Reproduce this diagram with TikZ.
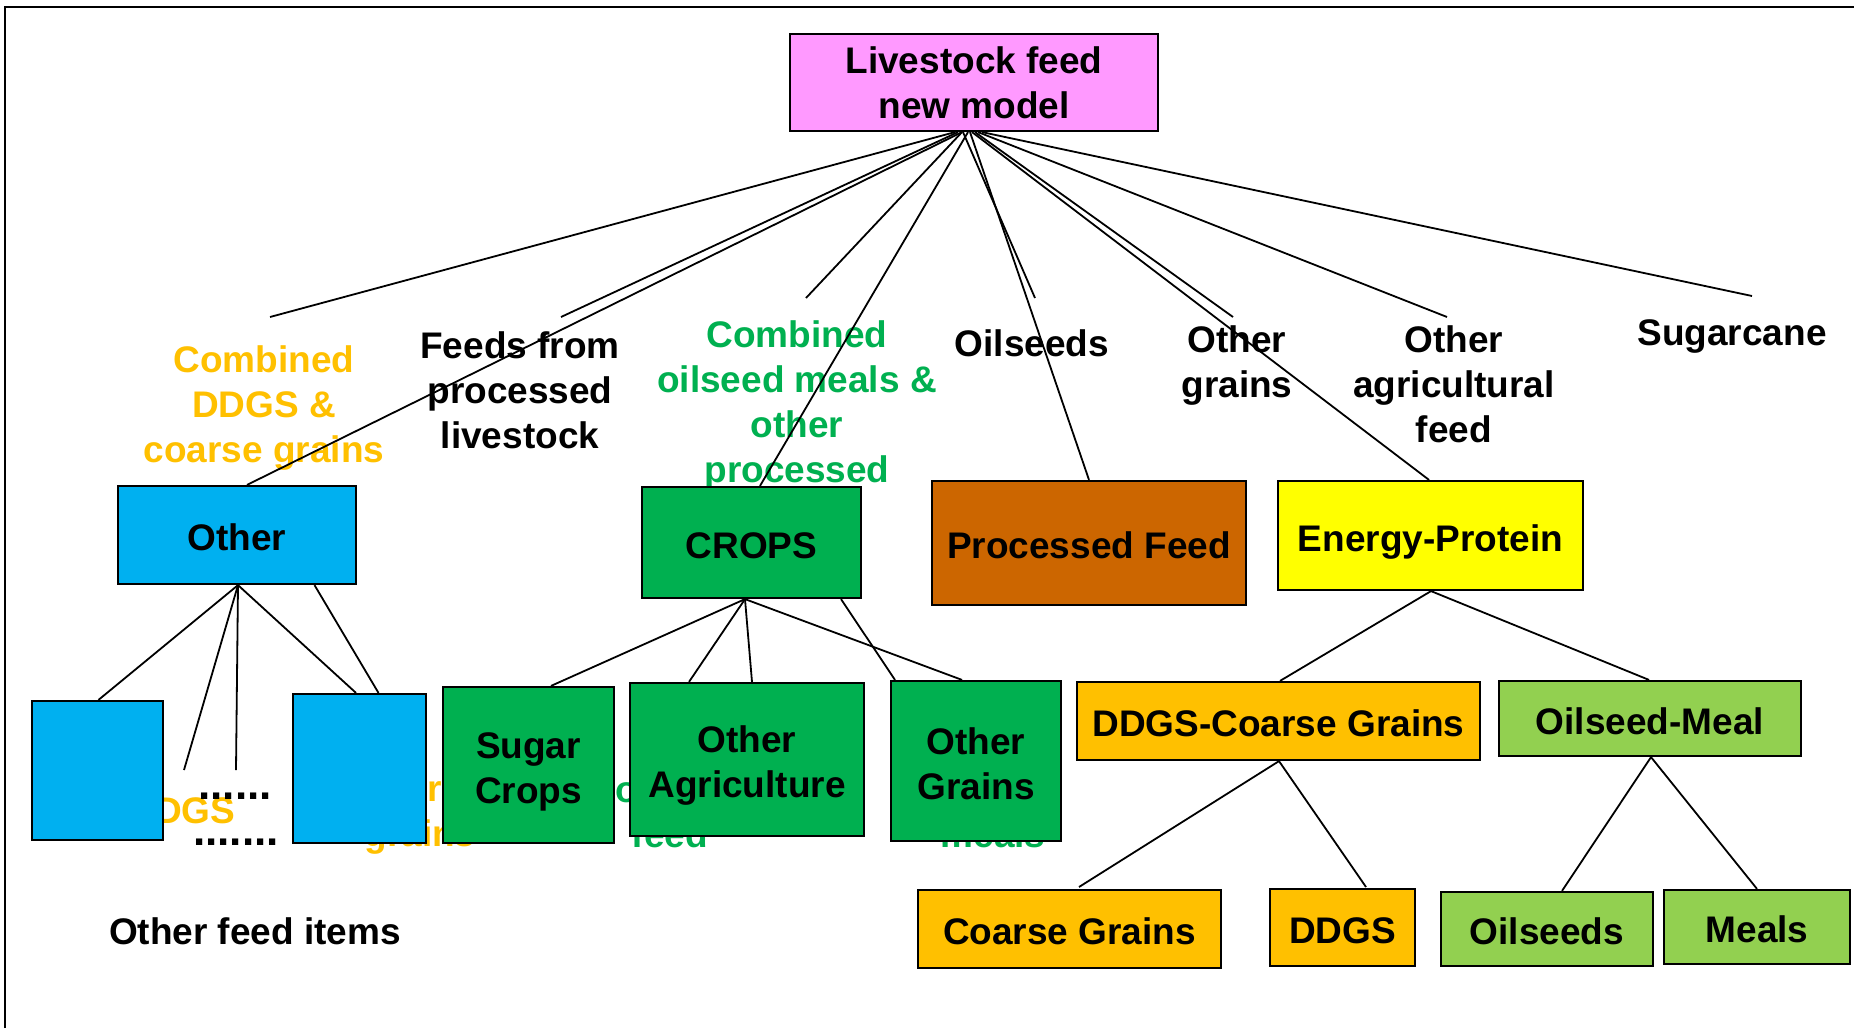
\documentclass[tikz,border=0pt]{standalone}
\usepackage{fontspec}
\setmainfont{Liberation Sans}
\pgfdeclarelayer{bg}
\pgfsetlayers{bg,main}
\definecolor{cpink}{HTML}{FF99FF}
\definecolor{cblue}{HTML}{00B0F0}
\definecolor{cgreen}{HTML}{00B050}
\definecolor{cbrown}{HTML}{CC6600}
\definecolor{cyel}{HTML}{FFFF00}
\definecolor{corange}{HTML}{FFC000}
\definecolor{clgreen}{HTML}{92D050}
\newcommand\twolines[2]{\begin{tabular}{@{}c@{}}\rule{0pt}{44.5pt}#1\\#2\end{tabular}}
\tikzset{
  box/.style={draw=black, line width=2.2pt, inner sep=0pt, align=center,
    font=\fontsize{37}{45}\selectfont\bfseries},
  onebox/.style={box, text height=31pt, text depth=0pt},
  lbl/.style={inner sep=0pt, align=center, font=\fontsize{37}{45}\selectfont\bfseries},
  dots/.style={inner sep=0pt, font=\fontsize{44}{50}\selectfont\bfseries, anchor=base},
  conn/.style={line width=1.8pt, black},
  frame/.style={line width=2pt, black},
}
\begin{document}
\begin{tikzpicture}[x=1pt,y=-1pt]
\useasboundingbox (0,0) rectangle (1854,1028);
% boxes
\node[box, fill=cpink, minimum width=368pt, minimum height=97pt] (top) at (974,82.5) {Livestock feed\\new model};
\node[onebox, fill=cblue, minimum width=238pt, minimum height=98pt] (other) at (237,535) {Other};
\node[onebox, fill=cgreen, minimum width=219pt, minimum height=111pt] (crops) at (751.5,542.5) {CROPS};
\node[onebox, fill=cbrown, minimum width=314pt, minimum height=124pt] (proc) at (1089,543) {Processed Feed};
\node[onebox, fill=cyel, minimum width=305pt, minimum height=109pt] (energy) at (1430.5,535.5) {Energy-Protein};
\node[onebox, fill=corange, minimum width=403pt, minimum height=78pt] (ddgscg) at (1278.5,721) {DDGS-Coarse Grains};
\node[onebox, fill=clgreen, minimum width=302pt, minimum height=75pt] (oilmeal) at (1650,718.5) {Oilseed-Meal};
\node[onebox, fill=corange, minimum width=303pt, minimum height=78pt] (coarse) at (1069.5,929) {Coarse Grains};
\node[onebox, fill=corange, minimum width=145pt, minimum height=77pt] (ddgs) at (1342.5,927.5) {DDGS};
\node[onebox, fill=clgreen, minimum width=212pt, minimum height=74pt] (oilseeds) at (1547,929) {Oilseeds};
\node[onebox, fill=clgreen, minimum width=186pt, minimum height=74pt] (meals) at (1757,927) {Meals};
\node[box, fill=cblue, minimum width=131pt, minimum height=139pt] (blueA) at (97.5,770.5) {};
\node[box, fill=cblue, minimum width=133pt, minimum height=149pt] (blueB) at (359.5,768.5) {};
\node[box, fill=cgreen, minimum width=171pt, minimum height=156pt] (sugar) at (528.5,765) {\twolines{Sugar}{Crops}};
\node[box, fill=cgreen, minimum width=234pt, minimum height=153pt] (otheragri) at (747,759.5) {\twolines{Other}{Agriculture}};
\node[box, fill=cgreen, minimum width=170pt, minimum height=160pt] (othergrains) at (976,761) {\twolines{Other}{Grains}};

\begin{pgfonlayer}{bg}
\fill[white] (0,0) rectangle (1854,1028);
\draw[frame] (5,1028) -- (5,7) -- (1854,7);
% texts partly hidden behind the boxes
\node[lbl, text=corange] (hA) at (182,811) {DDGS};
\node[dots] (hB) at (235,799) {......};
\node[dots] (hC) at (236,845) {.......};
\node[lbl, text=corange] (hD) at (420,815) {Coarse\\grains};
\node[lbl, text=cgreen] (hE) at (670,811.5) {Processed\\feed};
\node[lbl, text=cgreen] (hF) at (993,811.5) {Oilseed\\meals};
% labels
\node[lbl, text=corange] (lA) at (264,408) {Combined\\DDGS \&\\coarse grains};
\node[lbl] (lB) at (520,390.5) {Feeds from\\processed\\livestock};
\node[lbl, text=cgreen] (lC) at (797,405) {Combined\\oilseed meals \&\\other\\processed};
\node[lbl] (lD) at (1032,343.7) {Oilseeds};
\node[lbl] (lE) at (1237,366) {Other\\grains};
\node[lbl] (lF) at (1454,384) {Other\\agricultural\\feed};
\node[lbl] (lG) at (1732,336) {Sugarcane};
\node[lbl] (lH) at (255,931.7) {Other feed items};
% free ends
\coordinate (c1) at (270,317);
\coordinate (c2) at (561,317);
\coordinate (c3) at (806,298);
\coordinate (c4) at (1035,298);
\coordinate (c5) at (1233,317);
\coordinate (c6) at (1447,317);
\coordinate (c7) at (1752,296);
\coordinate (o1) at (184,770);
\coordinate (o2) at (236,770);
\coordinate (d1) at (1079,887);
\coordinate (d2) at (1366,887);
% connectors from the top box
\draw[conn] ([xshift=-19pt]top.south) -- (c1);
\draw[conn] ([xshift=-16pt]top.south) -- (c2);
\draw[conn] ([xshift=-12pt]top.south) -- ([xshift=10pt]other.north);
\draw[conn] ([xshift=-12pt]top.south) -- (c3);
\draw[conn] ([xshift=-6pt]top.south) -- ([xshift=8.5pt]crops.north);
\draw[conn] ([xshift=-11pt]top.south) -- (c4);
\draw[conn] ([xshift=-4pt]top.south) -- (proc.north);
\draw[conn] ([xshift=1pt]top.south) -- (c5);
\draw[conn] ([xshift=-2pt]top.south) -- ([xshift=-1.5pt]energy.north);
\draw[conn] ([xshift=4pt]top.south) -- (c6);
\draw[conn] ([xshift=8pt]top.south) -- (c7);
% Other fan
\draw[conn] ([xshift=1pt]other.south) -- ([xshift=1pt]blueA.north);
\draw[conn] ([xshift=1pt]other.south) -- (o1);
\draw[conn] ([xshift=1pt]other.south) -- (o2);
\draw[conn] ([xshift=1pt]other.south) -- ([xshift=-3.5pt]blueB.north);
\draw[conn] ([xshift=77.5pt]other.south) -- ([xshift=19pt]blueB.north);
% CROPS fan
\draw[conn] ([xshift=-6.5pt]crops.south) -- ([xshift=22.5pt]sugar.north);
\draw[conn] ([xshift=-6.5pt]crops.south) -- ([xshift=-58pt]otheragri.north);
\draw[conn] ([xshift=-6.5pt]crops.south) -- ([xshift=5pt]otheragri.north);
\draw[conn] ([xshift=-6.5pt]crops.south) -- ([xshift=-14pt]othergrains.north);
\draw[conn] ([xshift=89.5pt]crops.south) -- ([xshift=-81pt]othergrains.north);
% Energy-Protein fan
\draw[conn] ([xshift=0.5pt]energy.south) -- ([xshift=1.5pt]ddgscg.north);
\draw[conn] ([xshift=0.5pt]energy.south) -- ([xshift=-1pt]oilmeal.north);
\draw[conn] ([xshift=0.5pt]ddgscg.south) -- (d1);
\draw[conn] ([xshift=0.5pt]ddgscg.south) -- (d2);
\draw[conn] ([xshift=1pt]oilmeal.south) -- ([xshift=15pt]oilseeds.north);
\draw[conn] ([xshift=1pt]oilmeal.south) -- (meals.north);
\end{pgfonlayer}
\end{tikzpicture}
\end{document}
